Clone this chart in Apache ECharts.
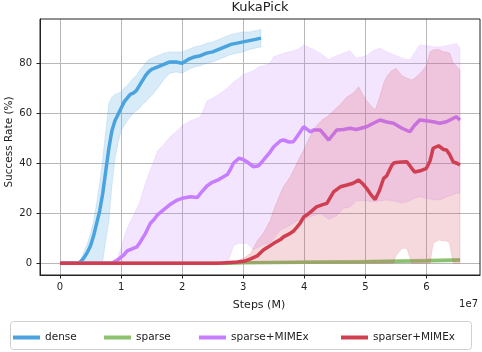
<!DOCTYPE html>
<html><head><meta charset="utf-8">
<script src="https://cdn.jsdelivr.net/npm/echarts@6/dist/echarts.min.js"></script>
<style>html,body{margin:0;padding:0;background:#fff}#c{width:482px;height:352px}</style>
</head><body><div id="c"></div>
<script>
// ---- data (x in units of 1e7 steps) ----
const xTicks = [0, 1, 2, 3, 4, 5, 6];
const yTicks = [0, 20, 40, 60, 80];
const seriesNames = ['dense', 'sparse', 'sparse+MIMEx', 'sparser+MIMEx'];

const denseX = [0,0.3,0.35,0.4,0.45,0.5,0.55,0.6,0.65,0.7,0.75,0.8,0.85,0.9,0.95,1.0,1.05,1.1,1.15,1.2,1.25,1.3,1.35,1.4,1.45,1.5,1.6,1.7,1.8,1.9,2.0,2.1,2.2,2.3,2.4,2.5,2.6,2.7,2.8,2.9,3.0,3.1,3.2,3.29];
const denseMean = [0,0,1,2.5,4.5,7,11,16,21,28,37,46,53,57,59.5,62,64.5,66,67.5,68,69,71,73,75,76.5,77.5,78.5,79.5,80.5,80.5,80,81.5,82.5,83,84,84.5,85.5,86.5,87.5,88,88.5,89,89.5,90];
const denseUpper = [0,0,2,5,8,12,17,24,32,42,53,64,66.5,67.5,68,68.5,70,71,72.5,74,75,77,78.5,80,81.5,82,83,84,84.5,84.5,84.5,85.5,86.5,87,88,88.5,89.5,90.5,91.5,92,92.5,92.5,93,93.5];
const denseLower = [0,0,0,0,0,0,0,0,0,1,9,17,31,42,48,53,55,57,58.5,60,61,62,63.5,64.5,66,67,70,73.5,76,76.5,76,77.5,78.5,79,80,80.5,81.5,82.5,83.5,84,84.5,85.5,86,86.5];

const sparseX = [0,1,2,2.8,3.0,3.5,4.0,4.5,5.0,5.5,6.0,6.55];
const sparseMean = [0,0,0,0,0.2,0.3,0.4,0.5,0.6,0.8,1.0,1.3];
const sparseUpper = [0,0,0,0.3,0.6,0.8,1.0,1.1,1.3,1.5,1.8,2.0];
const sparseLower = [0,0,0,0,0,0,0,0,0.1,0.2,0.4,0.6];

const mimeX = [0,0.85,0.94,1.0,1.05,1.1,1.2,1.26,1.3,1.4,1.48,1.54,1.6,1.7,1.8,1.92,2.0,2.14,2.25,2.3,2.41,2.5,2.6,2.74,2.8,2.84,2.93,3.0,3.06,3.17,3.25,3.33,3.44,3.5,3.61,3.66,3.75,3.82,3.88,3.99,4.1,4.15,4.26,4.4,4.53,4.64,4.75,4.85,5.02,5.13,5.24,5.35,5.46,5.6,5.73,5.8,5.89,6.0,6.11,6.22,6.33,6.44,6.49,6.55];
const mimeMean = [0,0,1.3,2.5,3.5,5,6,6.6,8,12,16,17.5,19.5,21.5,23.5,25.3,26,26.6,26.3,28,31,32.5,33.5,35.5,38,40,42,41.5,40.6,38.6,39,41.3,44.5,46.6,49,49.3,48.5,48.6,50.6,54.6,52.5,53.3,53.3,49.3,53.3,53.5,54,53.5,54.6,56,57.3,56.5,56,54,52.6,55,57.3,57,56.6,56,56.6,58,58.6,57.3];
const mimeUpper = [0,0,2,6,10.6,14,19,22,24,32,37.3,41,45,47.5,50.5,53,55,57,58,58.6,65,66,67.5,70,71.5,72.5,74,75.5,76,77,78.6,79,80,82.6,83.5,84,84.5,85,85.3,87.3,86,85.5,84,81.5,83,84,85,82,83,85,86,84.5,83.5,82,81.3,84,87.3,87,86.6,86.5,87,87.5,88,86];
const mimeLower = [0,0,0,0,0,0,0,0,0,0,0,0,0,0,0,0,0,0,0,0,0,0,0,0,4,7,8,8,8,5.5,6.5,7.5,8,10,13.3,14,15,16,17,17.5,18.6,19,20,17.5,19,22,22.5,25,25,24.6,25,25.3,25,24,25,26,26.6,26,25.5,25.3,26.5,27.5,28,28];

const sparserX = [0,2.6,2.9,3.01,3.12,3.23,3.33,3.44,3.5,3.61,3.66,3.77,3.82,3.88,3.93,3.99,4.04,4.1,4.2,4.3,4.37,4.48,4.59,4.7,4.8,4.89,4.97,5.02,5.09,5.16,5.23,5.3,5.35,5.43,5.46,5.5,5.6,5.68,5.76,5.81,5.9,6.0,6.06,6.11,6.2,6.28,6.33,6.38,6.44,6.5,6.55];
const sparserMean = [0,0,0.5,0.8,1.8,3,5.3,7,8,9.5,10.6,12,12.8,14.5,16,18.5,19.3,20.5,22.6,23.5,24,28.6,30.6,31.3,32,33.3,31.5,30,27.5,25.5,29,34,35,39,40,40.3,40.5,40.6,38,36.5,37,38,41,46,47,45.5,45.3,43.5,40.5,40,39.3];
const sparserUpper = [0,0,1,2,4,9,12,17,21.3,28,30.6,34.6,37,40,42.6,45.3,48,51,55,57.5,58.5,61,63.5,66.6,68,70.6,67,65,63,61.3,66,72,74.6,77,77.3,78,75,74,73.3,74,76,79,84.5,85.3,85.5,84.5,84.5,84,80,78.6,77.3];
const sparserLower = [0,0,0,0,0,0,0,0,0,0,0,0,0,0,0,0,0,0,0,0,0,0,0,0,0,0,0,0,0,0,0,0,0,0,0,3,6,6,0,0,0,0,0,8,9.3,9,9,8,0,0,0];

const lineColors = ['#4aa3df', '#8dc26f', '#c77dff', '#d03f52'];
const bandColors = ['rgba(74,163,223,0.22)', 'rgba(141,194,111,0.25)', 'rgba(199,125,255,0.2)', 'rgba(208,63,82,0.2)'];

function pairs(xs, ys) { return xs.map((x, i) => [x, ys[i]]); }

function band(name, xs, lo, hi, color, z) {
  return {
    type: 'custom', name: name + '-band', coordinateSystem: 'cartesian2d', silent: true, z: z,
    data: [[xs[0], lo[0]]], encode: { x: 0, y: 1 },
    renderItem: function (params, api) {
      const pts = [];
      for (let i = 0; i < xs.length; i++) pts.push(api.coord([xs[i], hi[i]]));
      for (let i = xs.length - 1; i >= 0; i--) pts.push(api.coord([xs[i], lo[i]]));
      return { type: 'polygon', shape: { points: pts }, style: { fill: color, stroke: color, lineWidth: 0.8 } };
    }
  };
}
function line(name, xs, ys, color, z) {
  return {
    type: 'line', name: name, data: pairs(xs, ys), showSymbol: false, symbol: 'none', z: z,
    color: color, lineStyle: { color: color, width: 3.5 }, itemStyle: { color: color }, silent: true
  };
}

const font = 'DejaVu Sans';
const chart = echarts.init(document.getElementById('c'), null, { renderer: 'canvas' });
const option = {
  animation: false,
  textStyle: { fontFamily: font },
  grid: { left: 40, right: 2, top: 19, bottom: 77, show: false },
  xAxis: {
    type: 'value', min: -0.3275, max: 6.8775,
    axisLine: { show: true, onZero: false, lineStyle: { color: '#222', width: 1 } },
    axisTick: { show: true, length: 3.5, customValues: xTicks, lineStyle: { color: '#222' } },
    axisLabel: { customValues: xTicks, margin: 7, fontSize: 10, color: '#222', fontFamily: font },
    splitLine: { show: true, lineStyle: { color: '#b8b8b8', width: 1 } }
  },
  yAxis: {
    type: 'value', min: -4.65, max: 97.65,
    axisLine: { show: true, onZero: false, lineStyle: { color: '#222', width: 1 } },
    axisTick: { show: true, length: 3.5, customValues: yTicks, lineStyle: { color: '#222' } },
    axisLabel: { customValues: yTicks, margin: 8, fontSize: 10, color: '#222', fontFamily: font },
    splitLine: { show: true, lineStyle: { color: '#b8b8b8', width: 1 } }
  },
  legend: seriesNames.map((n, i) => ({
    data: [n], left: [13, 104, 199, 341][i], top: 332, padding: 0,
    icon: 'rect', itemWidth: 27, itemHeight: 4,
    textStyle: { fontSize: 10.5, color: '#222', fontFamily: font }
  })),
  graphic: [
    { type: 'rect', shape: { x: 10.5, y: 321.5, width: 461, height: 28, r: 3 }, style: { fill: '#fff', stroke: '#d0d0d0', lineWidth: 1 }, z: -1, silent: true },
    { type: 'rect', shape: { x: 40, y: 19, width: 440, height: 256 }, style: { fill: 'none', stroke: '#222', lineWidth: 1 }, z: 100, silent: true },
    { type: 'text', x: 260, y: 8, style: { text: 'KukaPick', fontSize: 13, fontFamily: font, fill: '#222', align: 'center', verticalAlign: 'middle', textAlign: 'center', textVerticalAlign: 'middle' }, silent: true },
    { type: 'text', x: 259, y: 305, style: { text: 'Steps (M)', fontSize: 11, fontFamily: font, fill: '#222', align: 'center', verticalAlign: 'middle', textAlign: 'center', textVerticalAlign: 'middle' }, silent: true },
    { type: 'text', x: 478, y: 304, style: { text: '1e7', fontSize: 10, fontFamily: font, fill: '#222', align: 'right', verticalAlign: 'middle', textAlign: 'right', textVerticalAlign: 'middle' }, silent: true },
    { type: 'text', x: 9, y: 142, rotation: Math.PI / 2, style: { text: 'Success Rate (%)', fontSize: 10.5, fontFamily: font, fill: '#222', align: 'center', verticalAlign: 'middle', textAlign: 'center', textVerticalAlign: 'middle' }, silent: true }
  ],
  series: [
    line(seriesNames[0], denseX, denseMean, lineColors[0], 2),
    band(seriesNames[0], denseX, denseLower, denseUpper, bandColors[0], 3),
    line(seriesNames[1], sparseX, sparseMean, lineColors[1], 4),
    band(seriesNames[1], sparseX, sparseLower, sparseUpper, bandColors[1], 5),
    line(seriesNames[2], mimeX, mimeMean, lineColors[2], 6),
    band(seriesNames[2], mimeX, mimeLower, mimeUpper, bandColors[2], 7),
    line(seriesNames[3], sparserX, sparserMean, lineColors[3], 8),
    band(seriesNames[3], sparserX, sparserLower, sparserUpper, bandColors[3], 9)
  ]
};
chart.setOption(option);
</script>
</body></html>
